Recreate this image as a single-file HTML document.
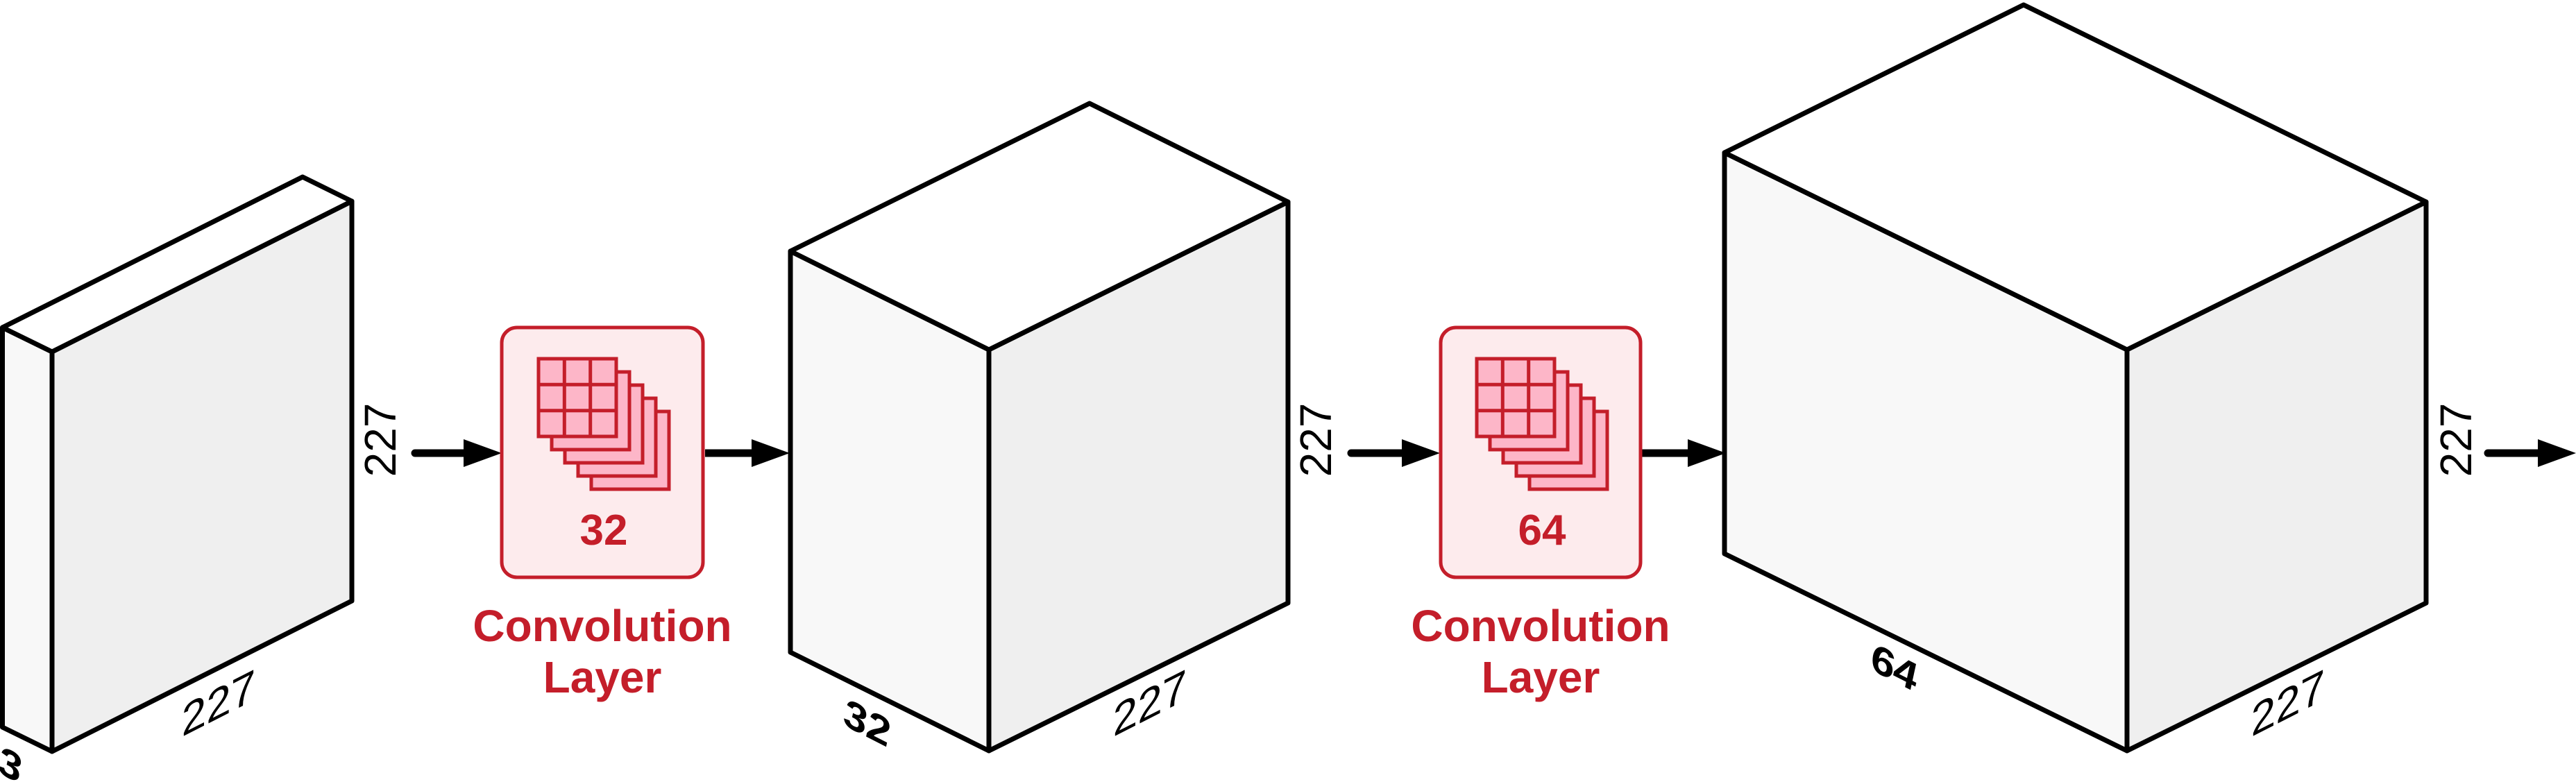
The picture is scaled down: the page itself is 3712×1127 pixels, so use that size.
<!DOCTYPE html>
<html><head><meta charset="utf-8"><style>
html,body{margin:0;padding:0;background:#fff;}
svg{display:block;}
text{font-family:"Liberation Sans",sans-serif;}
</style></head><body>
<svg width="3712" height="1127" viewBox="0 0 3712 1127" xmlns="http://www.w3.org/2000/svg">
<defs>
<g id="filters">
<rect x="76" y="76" width="112" height="112" fill="#fdb6c8" stroke="#c41e2a" stroke-width="5"/>
<rect x="57" y="57" width="112" height="112" fill="#fdb6c8" stroke="#c41e2a" stroke-width="5"/>
<rect x="38" y="38" width="112" height="112" fill="#fdb6c8" stroke="#c41e2a" stroke-width="5"/>
<rect x="19" y="19" width="112" height="112" fill="#fdb6c8" stroke="#c41e2a" stroke-width="5"/>
<rect x="0" y="0" width="112" height="112" fill="#fdb6c8" stroke="#c41e2a" stroke-width="5"/>
<path d="M37.3 0V112M74.7 0V112M0 37.3H112M0 74.7H112" stroke="#c41e2a" stroke-width="5"/>
</g>
</defs>
<g stroke="#000" stroke-width="7" stroke-linejoin="round">
<g>
<polygon points="75,507 3.5,472 3.5,1048 75,1083" fill="#f8f8f8"/>
<polygon points="75,507 507,290 507,866 75,1083" fill="#efefef"/>
<polygon points="75,507 3.5,472 436,255 507,290" fill="#fff"/>
</g>
<g>
<polygon points="1425,504 1139,362 1139,940 1425,1082" fill="#f8f8f8"/>
<polygon points="1425,504 1856,291 1856,869 1425,1082" fill="#efefef"/>
<polygon points="1425,504 1139,362 1570,149 1856,291" fill="#fff"/>
</g>
<g>
<polygon points="3065,504 2485,220 2485,798 3065,1082" fill="#f8f8f8"/>
<polygon points="3065,504 3496,291 3496,869 3065,1082" fill="#efefef"/>
<polygon points="3065,504 2485,220 2916,7 3496,291" fill="#fff"/>
</g>
</g>
<g fill="#000" stroke="#000" stroke-width="11" stroke-linecap="round">
<g><line x1="598" y1="653" x2="680" y2="653"/><polygon points="668,633 723,653 668,673" stroke="none"/></g>
<g><line x1="1016" y1="653" x2="1090" y2="653" stroke-linecap="butt"/><polygon points="1083,633 1138,653 1083,673" stroke="none"/></g>
<g><line x1="1947" y1="653" x2="2030" y2="653"/><polygon points="2020,633 2075,653 2020,673" stroke="none"/></g>
<g><line x1="2365" y1="653" x2="2440" y2="653" stroke-linecap="butt"/><polygon points="2432,633 2487,653 2432,673" stroke="none"/></g>
<g><line x1="3585" y1="653" x2="3665" y2="653"/><polygon points="3657,633 3712,653 3657,673" stroke="none"/></g>
</g>
<g>
<rect x="723" y="472" width="290" height="360" rx="22" fill="#fdebed" stroke="#c41e2a" stroke-width="5"/>
<use href="#filters" x="776" y="517"/>
<text x="870" y="785" font-size="62" font-weight="bold" fill="#c41e2a" text-anchor="middle">32</text>
<text x="868" y="924" font-size="64" font-weight="bold" fill="#c41e2a" text-anchor="middle">Convolution</text>
<text x="868" y="998" font-size="64" font-weight="bold" fill="#c41e2a" text-anchor="middle">Layer</text>
</g>
<g>
<rect x="2076" y="472" width="288" height="360" rx="22" fill="#fdebed" stroke="#c41e2a" stroke-width="5"/>
<use href="#filters" x="2128" y="517"/>
<text x="2222" y="785" font-size="62" font-weight="bold" fill="#c41e2a" text-anchor="middle">64</text>
<text x="2220" y="924" font-size="64" font-weight="bold" fill="#c41e2a" text-anchor="middle">Convolution</text>
<text x="2220" y="998" font-size="64" font-weight="bold" fill="#c41e2a" text-anchor="middle">Layer</text>
</g>
<text transform="translate(570,634) rotate(-90)" font-size="64" text-anchor="middle">227</text>
<text transform="translate(1918,634) rotate(-90)" font-size="64" text-anchor="middle">227</text>
<text transform="translate(3561,634) rotate(-90)" font-size="64" text-anchor="middle">227</text>
<text transform="translate(315,1035) skewY(-27)" font-size="64" text-anchor="middle">227</text>
<text transform="translate(1657,1035) skewY(-27)" font-size="64" text-anchor="middle">227</text>
<text transform="translate(3297,1035) skewY(-27)" font-size="64" text-anchor="middle">227</text>
<text transform="translate(14,1122) skewY(27)" font-size="60" font-weight="bold" font-style="italic" text-anchor="middle">3</text>
<text transform="translate(1249,1062) skewY(27)" font-size="60" font-weight="bold" font-style="italic" text-anchor="middle">32</text>
<text transform="translate(2729,982) skewY(27)" font-size="60" font-weight="bold" font-style="italic" text-anchor="middle">64</text>
</svg>
</body></html>
